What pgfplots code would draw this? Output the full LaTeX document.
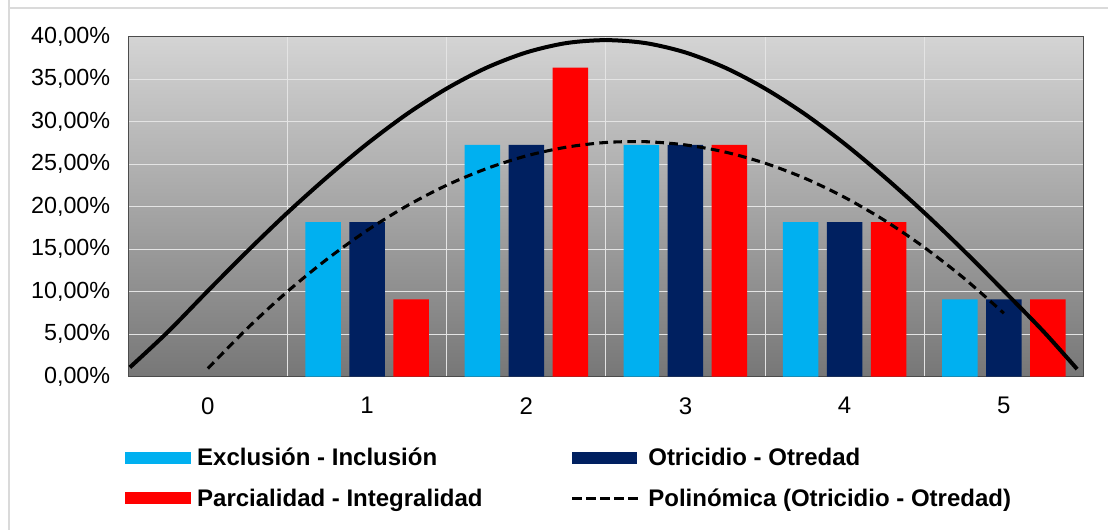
\documentclass[border=0pt]{standalone}
\usepackage{pgfplots}
\pgfplotsset{compat=1.18}
\usepackage{fontspec}
\setmainfont{Liberation Sans}

\definecolor{cExcl}{HTML}{00B0F0}
\definecolor{cOtri}{HTML}{002060}
\definecolor{cParc}{HTML}{FF0000}
\definecolor{bgTop}{HTML}{D4D4D4}
\definecolor{bgBot}{HTML}{777777}
\definecolor{gridc}{HTML}{E4E4E4}
\definecolor{framec}{HTML}{DADADA}

% share of each category, in percent
\pgfplotstableread{
x excl otri parc
0 0     0     0
1 18.18 18.18 9.09
2 27.27 27.27 36.36
3 27.27 27.27 27.27
4 18.18 18.18 18.18
5 9.09  9.09  9.09
}\datatab

\begin{document}
\begin{tikzpicture}
\useasboundingbox (0,0) rectangle (831pt,396.75pt);
\draw[framec, line width=1.5pt] (6.75pt,400pt) |- (840pt,390.75pt);
\draw[framec, line width=1.5pt] (6.75pt,390.75pt) -- (6.75pt,-5pt);

\begin{axis}[
  at={(96.2pt,114.2pt)}, anchor=south west,
  scale only axis,
  width=716.4pt, height=255pt,
  xmin=-0.5, xmax=5.5,
  ymin=0, ymax=40,
  xtick={0,...,5},
  minor xtick={0.5,1.5,2.5,3.5,4.5},
  ytick={0,5,...,40},
  major tick length=0pt, minor tick length=0pt,
  ymajorgrids=true, xminorgrids=true,
  grid style={gridc, line width=0.75pt},
  minor grid style={gridc, line width=0.75pt},
  axis line style={draw=black!70, line width=0.75pt},
  axis background/.style={top color=bgTop, bottom color=bgBot},
  /pgf/number format/assume math mode=true,
  yticklabel style={font=\fontsize{17.5}{20}\selectfont, xshift=-10pt},
  xticklabel style={font=\fontsize{18}{21}\selectfont, yshift=-12pt},
  yticklabel={\pgfmathprintnumber[fixed,fixed zerofill,precision=2,use comma]{\tick}\%},
  bar width=0.223,
  legend columns=2,
  legend cell align=left,
  legend style={at={(-0.0035,-0.202)}, anchor=north west, draw=none, fill=none,
    inner sep=0pt, font=\fontsize{18}{21}\selectfont\bfseries,
    row sep=11.5pt,
    nodes={inner xsep=5pt},
    /tikz/every even column/.append style={column sep=61pt}},
]
\addplot[ybar, fill=cExcl, draw=none, bar shift=-0.2764,
  skip coords between index={0}{1},
  legend image code/.code={\fill[cExcl] (0pt,-4.5pt) rectangle (49pt,4.5pt);}]
  table[x=x, y=excl] {\datatab};
\addlegendentry{Exclusión - Inclusión}
\addplot[ybar, fill=cOtri, draw=none, bar shift=0,
  skip coords between index={0}{1},
  legend image code/.code={\fill[cOtri] (0pt,-4.5pt) rectangle (49pt,4.5pt);}]
  table[x=x, y=otri] {\datatab};
\addlegendentry{Otricidio - Otredad}
\addplot[ybar, fill=cParc, draw=none, bar shift=0.2764,
  skip coords between index={0}{1},
  legend image code/.code={\fill[cParc] (0pt,-4.5pt) rectangle (49pt,4.5pt);}]
  table[x=x, y=parc] {\datatab};
\addlegendentry{Parcialidad - Integralidad}

% unlabelled solid trend
\addplot[black, line width=3pt, smooth, forget plot] coordinates {
(-0.49,1.1) (-0.25,5.3) (0,10.1) (0.25,14.8) (0.5,19.3) (0.75,23.5)
(1,27.4) (1.25,30.9) (1.5,33.9) (1.75,36.35) (2,38.15) (2.25,39.25)
(2.5,39.6) (2.75,39.25) (3,38.15) (3.25,36.35) (3.5,33.9) (3.75,30.9)
(4,27.4) (4.25,23.5) (4.5,19.3) (4.75,14.8) (5,10.1) (5.25,5.3) (5.46,0.9)
};

% polynomial trend of Otricidio - Otredad
\addplot[black, line width=2.3pt, dash pattern=on 6.5pt off 4pt, smooth,
  legend image code/.code={\draw[black, line width=2.3pt, dash pattern=on 7.5pt off 3pt] (0pt,0pt) -- (51pt,0pt);}]
  coordinates {
(0,0.97) (0.25,5.73) (0.5,10.03) (0.75,13.85) (1,17.21) (1.25,20.10)
(1.5,22.53) (1.75,24.48) (2,25.98) (2.25,27.00) (2.5,27.56) (2.75,27.65)
(3,27.27) (3.25,26.43) (3.5,25.12) (3.75,23.35) (4,21.10) (4.25,18.40)
(4.5,15.22) (4.75,11.58) (5,7.47)
};
\addlegendentry{Polinómica (Otricidio - Otredad)}
\end{axis}
\end{tikzpicture}
\end{document}
